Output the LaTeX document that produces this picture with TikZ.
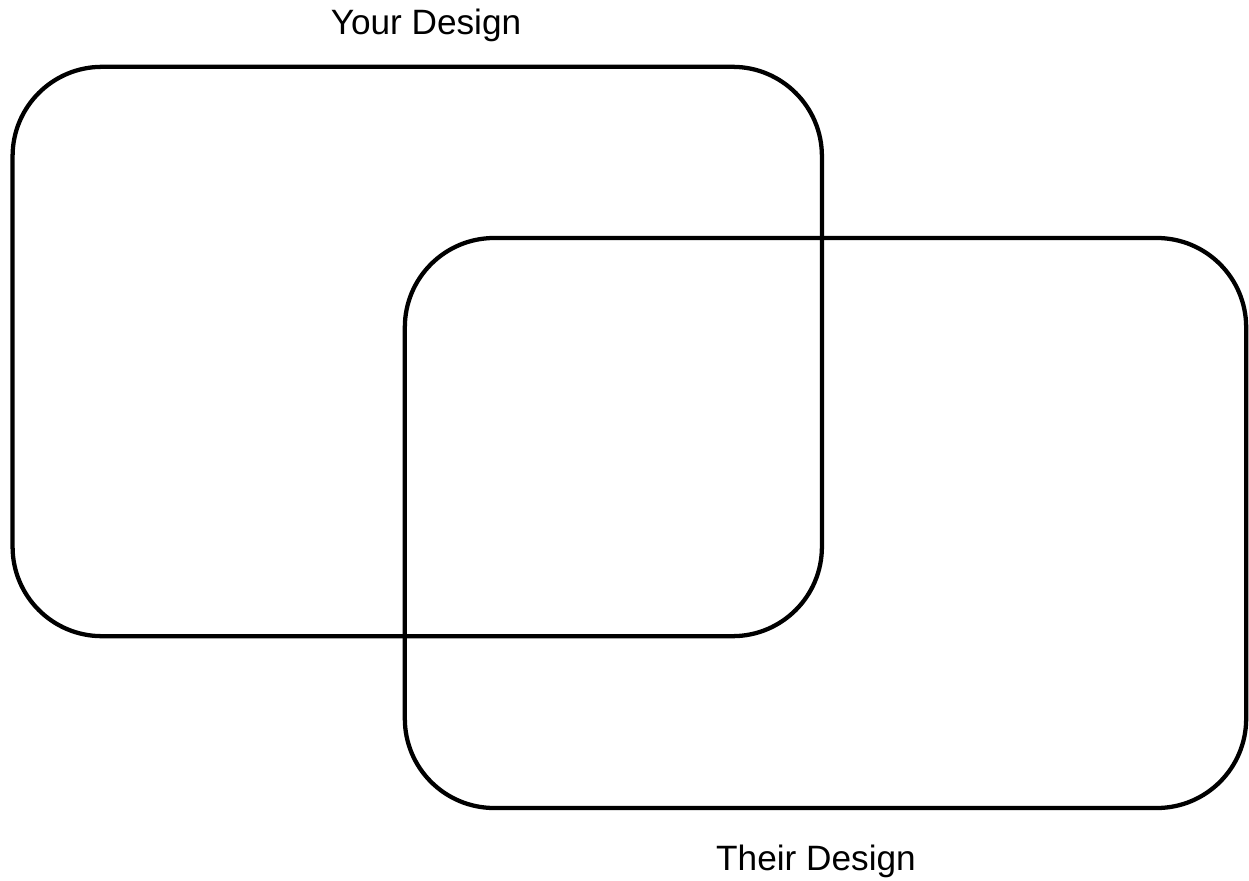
\documentclass[tikz,border=0pt]{standalone}
\usepackage{fontspec}
\setmainfont{Liberation Sans}
\usetikzlibrary{positioning}

\begin{document}
\begin{tikzpicture}[x=0.75pt, y=-0.75pt,
    designbox/.style={draw=black, line width=3.2pt, rounded corners=67pt, rectangle, inner sep=0pt},
    designlabel/.style={font=\fontsize{26.4}{31}\selectfont, anchor=base, inner sep=0pt}]
    \useasboundingbox (0,0) rectangle (1249,881);

    % your design
    \node[designbox, minimum width=607pt, minimum height=427pt] (yours) at (417.25,351.5) {};
    % their design
    \node[designbox, minimum width=631pt, minimum height=427.5pt] (theirs) at (825.5,523) {};

    % labels
    \node[designlabel] (yourslabel) at (426,35) {Your Design};
    \node[designlabel] (theirslabel) at (816,870) {Their Design};
\end{tikzpicture}
\end{document}
